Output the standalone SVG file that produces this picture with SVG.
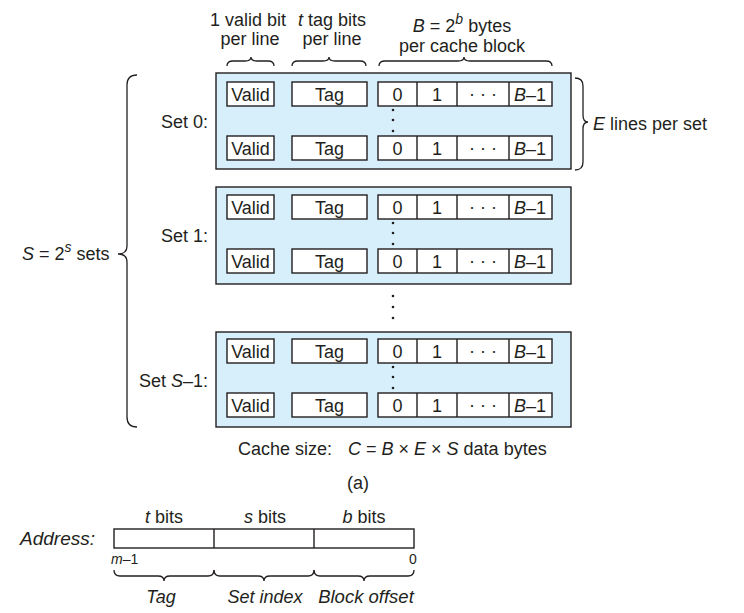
<svg xmlns="http://www.w3.org/2000/svg" width="744" height="613" viewBox="0 0 744 613">
<style>
text{font-family:"Liberation Sans",Arial,sans-serif;font-size:18px;fill:#231f20}
.m{text-anchor:middle}
.e{text-anchor:end}
.i{font-style:italic}
.sm{font-size:14px}
.set{fill:#d6effb;stroke:#231f20;stroke-width:1.4}
.cell{fill:#fff;stroke:#231f20;stroke-width:1.4}
.ln{stroke:#231f20;stroke-width:1.4;fill:none}
.br{stroke:#231f20;stroke-width:1.3;fill:none}
.dot{fill:#231f20}
</style>
<defs>
<g id="row">
<rect class="cell" x="227" y="0" width="47" height="24"/>
<rect class="cell" x="292" y="0" width="75" height="24"/>
<rect class="cell" x="378" y="0" width="174" height="24"/>
<path class="ln" d="M417,0V24M457,0V24M509,0V24"/>
</g>
</defs>

<g id="top-labels">
<text class="m" x="248" y="26">1 valid bit</text>
<text class="m" x="250" y="45">per line</text>
<text class="m" x="332" y="26"><tspan class="i">t</tspan> tag bits</text>
<text class="m" x="332" y="45">per line</text>
<text class="m" x="462" y="32"><tspan class="i">B</tspan> = 2<tspan class="i sm" dy="-8">b</tspan><tspan dy="8"> bytes</tspan></text>
<text class="m" x="462" y="52">per cache block</text>
</g>

<g id="braces">
<path class="br" d="M227,66 Q227,61 233,61 L245,61 Q251,61 251,57 Q251,61 257,61 L268,61 Q274,61 274,66"/>
<path class="br" d="M292,66 Q292,61 298,61 L323,61 Q329,61 329,57 Q329,61 335,61 L360,61 Q366,61 366,66"/>
<path class="br" d="M379,66 Q379,61 385,61 L458,61 Q464,61 464,57 Q464,61 470,61 L546,61 Q552,61 552,66"/>
<path class="br" d="M575,78 Q583,78 583,86 L583,115 Q583,122 588,122 Q583,122 583,129 L583,162 Q583,170 575,170"/>
<path class="br" d="M137,75 Q127,75 127,85 L127,246 Q127,254 118,254 Q127,254 127,262 L127,417 Q127,427 137,427"/>
<path class="br" d="M114,570 Q114,576 120,576 L158,576 Q164,576 164,581 Q164,576 170,576 L208,576 Q214,576 214,570"/>
<path class="br" d="M214,570 Q214,576 220,576 L258,576 Q264,576 264,581 Q264,576 270,576 L308,576 Q314,576 314,570"/>
<path class="br" d="M314,570 Q314,576 320,576 L358,576 Q364,576 364,581 Q364,576 370,576 L408,576 Q414,576 414,570"/>
</g>

<text x="593" y="130"><tspan class="i">E</tspan> lines per set</text>
<text x="22" y="260"><tspan class="i">S</tspan> = 2<tspan class="i sm" dy="-8">s</tspan><tspan dy="8"> sets</tspan></text>

<g id="set0">
<text class="e" x="208" y="128">Set 0:</text>
<rect class="set" x="216" y="73" width="355" height="96"/>
<g transform="translate(0,82)"><use href="#row"/>
<text class="m" x="250.5" y="19">Valid</text><text class="m" x="329.5" y="19">Tag</text><text class="m" x="397.5" y="19">0</text><text class="m" x="437" y="19">1</text><text class="m" x="483" y="18">· · ·</text><text class="m" x="530" y="19"><tspan class="i">B</tspan>–1</text></g>
<circle class="dot" cx="393" cy="110" r="1.3"/><circle class="dot" cx="393" cy="120" r="1.3"/><circle class="dot" cx="393" cy="131" r="1.3"/>
<g transform="translate(0,136)"><use href="#row"/>
<text class="m" x="250.5" y="19">Valid</text><text class="m" x="329.5" y="19">Tag</text><text class="m" x="397.5" y="19">0</text><text class="m" x="437" y="19">1</text><text class="m" x="483" y="18">· · ·</text><text class="m" x="530" y="19"><tspan class="i">B</tspan>–1</text></g>
</g>

<g id="set1">
<text class="e" x="208" y="242">Set 1:</text>
<rect class="set" x="216" y="187" width="355" height="97"/>
<g transform="translate(0,195)"><use href="#row"/>
<text class="m" x="250.5" y="19">Valid</text><text class="m" x="329.5" y="19">Tag</text><text class="m" x="397.5" y="19">0</text><text class="m" x="437" y="19">1</text><text class="m" x="483" y="18">· · ·</text><text class="m" x="530" y="19"><tspan class="i">B</tspan>–1</text></g>
<circle class="dot" cx="393" cy="223" r="1.3"/><circle class="dot" cx="393" cy="233" r="1.3"/><circle class="dot" cx="393" cy="244" r="1.3"/>
<g transform="translate(0,249)"><use href="#row"/>
<text class="m" x="250.5" y="19">Valid</text><text class="m" x="329.5" y="19">Tag</text><text class="m" x="397.5" y="19">0</text><text class="m" x="437" y="19">1</text><text class="m" x="483" y="18">· · ·</text><text class="m" x="530" y="19"><tspan class="i">B</tspan>–1</text></g>
</g>

<circle class="dot" cx="393" cy="296" r="1.3"/><circle class="dot" cx="393" cy="307" r="1.3"/><circle class="dot" cx="393" cy="318" r="1.3"/>

<g id="setS1">
<text class="e" x="208" y="387">Set <tspan class="i">S</tspan>–1:</text>
<rect class="set" x="216" y="332" width="355" height="95"/>
<g transform="translate(0,339)"><use href="#row"/>
<text class="m" x="250.5" y="19">Valid</text><text class="m" x="329.5" y="19">Tag</text><text class="m" x="397.5" y="19">0</text><text class="m" x="437" y="19">1</text><text class="m" x="483" y="18">· · ·</text><text class="m" x="530" y="19"><tspan class="i">B</tspan>–1</text></g>
<circle class="dot" cx="393" cy="367" r="1.3"/><circle class="dot" cx="393" cy="377" r="1.3"/><circle class="dot" cx="393" cy="388" r="1.3"/>
<g transform="translate(0,393)"><use href="#row"/>
<text class="m" x="250.5" y="19">Valid</text><text class="m" x="329.5" y="19">Tag</text><text class="m" x="397.5" y="19">0</text><text class="m" x="437" y="19">1</text><text class="m" x="483" y="18">· · ·</text><text class="m" x="530" y="19"><tspan class="i">B</tspan>–1</text></g>
</g>

<text x="238" y="455">Cache size:</text>
<text x="348" y="455"><tspan class="i">C</tspan> = <tspan class="i">B</tspan> × <tspan class="i">E</tspan> × <tspan class="i">S</tspan> data bytes</text>
<text class="m" x="358" y="489">(a)</text>

<g id="address">
<text class="i" x="20" y="545" style="font-size:19px">Address:</text>
<text class="m" x="164" y="523"><tspan class="i">t</tspan> bits</text>
<text class="m" x="265" y="523"><tspan class="i">s</tspan> bits</text>
<text class="m" x="364" y="523"><tspan class="i">b</tspan> bits</text>
<rect class="cell" x="114" y="529" width="300" height="19"/>
<path class="ln" d="M214,529V548M314,529V548"/>
<text class="sm" x="111" y="564"><tspan class="i">m</tspan>–1</text>
<text class="sm m" x="413" y="564">0</text>
<text class="m i" x="161" y="603">Tag</text>
<text class="m i" x="265" y="603">Set index</text>
<text class="m i" x="366" y="603" style="font-size:18.5px">Block offset</text>
</g>
</svg>
